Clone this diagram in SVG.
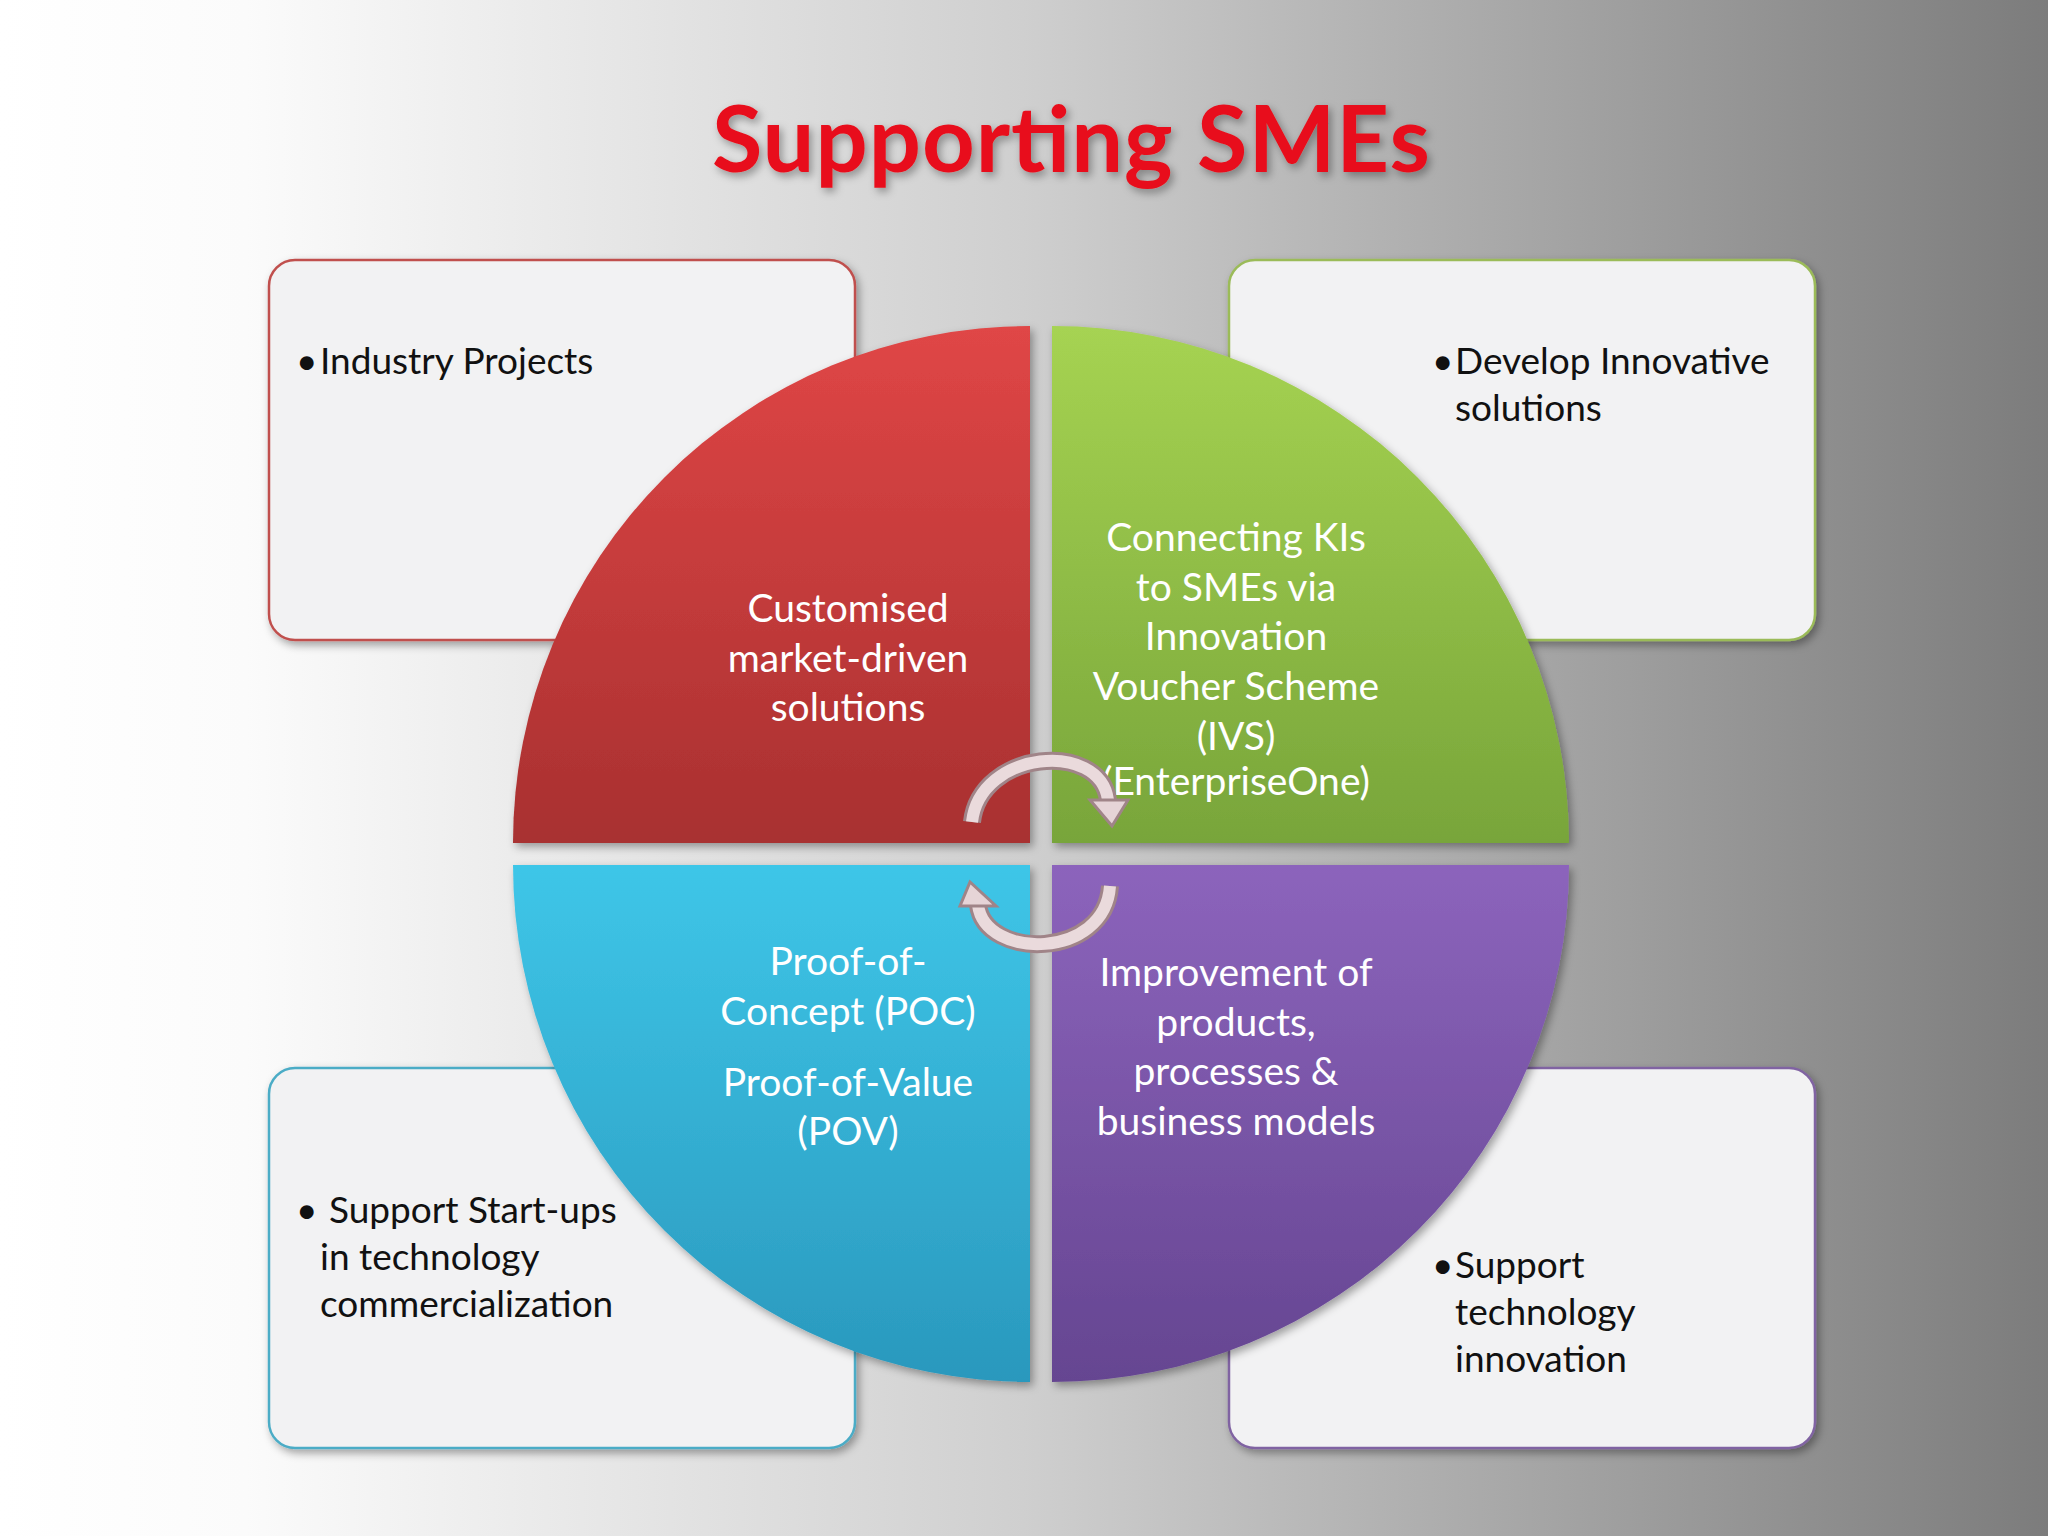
<svg xmlns="http://www.w3.org/2000/svg" width="2048" height="1536" viewBox="0 0 2048 1536">
<defs>
<linearGradient id="bg" x1="0" y1="0" x2="1" y2="0">
<stop offset="0" stop-color="#ffffff"/><stop offset="0.12" stop-color="#fbfbfb"/><stop offset="0.5" stop-color="#cfcfcf"/><stop offset="1" stop-color="#7c7c7c"/>
</linearGradient>
<linearGradient id="gr" x1="0" y1="0" x2="0" y2="1"><stop offset="0" stop-color="#e04646"/><stop offset="1" stop-color="#a83030"/></linearGradient>
<linearGradient id="gg" x1="0" y1="0" x2="0" y2="1"><stop offset="0" stop-color="#a6d352"/><stop offset="1" stop-color="#78a53a"/></linearGradient>
<linearGradient id="gb" x1="0" y1="0" x2="0" y2="1"><stop offset="0" stop-color="#3ec6e8"/><stop offset="1" stop-color="#2a98bd"/></linearGradient>
<linearGradient id="gp" x1="0" y1="0" x2="0" y2="1"><stop offset="0" stop-color="#8c64bc"/><stop offset="1" stop-color="#654591"/></linearGradient>
<filter id="sh" x="-10%" y="-10%" width="130%" height="130%"><feDropShadow dx="3" dy="4" stdDeviation="4" flood-color="#000" flood-opacity="0.35"/></filter>
</defs>
<style>
.box{fill:#f2f2f3;stroke-width:2.5}
.bt{font-family:Lato,"Open Sans",sans-serif;font-size:37px;fill:#111}
.qt{font-family:Lato,"Open Sans",sans-serif;font-size:39px;fill:#fff;text-anchor:middle}
.arr{fill:none;stroke:#a08488;stroke-width:18;stroke-linecap:butt}
.arri{fill:none;stroke:#eadadc;stroke-width:12}
</style>
<rect width="2048" height="1536" fill="url(#bg)"/>
<text x="1071" y="172" text-anchor="middle" font-family="Lato,'Open Sans',sans-serif" font-weight="bold" font-size="92" textLength="718" fill="#e8101a" filter="url(#sh)">Supporting SMEs</text>

<g id="box-tl"><rect class="box" x="269" y="260" width="586" height="380" rx="26" stroke="#c0504d" filter="url(#sh)"/>
<text class="bt" x="296" y="374">•</text><text class="bt" x="320" y="374">Industry Projects</text></g>
<g id="box-tr"><rect class="box" x="1229" y="260" width="586" height="380" rx="26" stroke="#9bbb59" filter="url(#sh)"/>
<text class="bt" x="1432" y="374">•</text><text class="bt" x="1455" y="374">Develop Innovative</text><text class="bt" x="1455" y="421">solutions</text></g>
<g id="box-bl"><rect class="box" x="269" y="1068" width="586" height="380" rx="26" stroke="#4bacc6" filter="url(#sh)"/>
<text class="bt" x="296" y="1223">•</text><text class="bt" x="329" y="1223">Support Start-ups</text><text class="bt" x="320" y="1270">in technology</text><text class="bt" x="320" y="1317">commercialization</text></g>
<g id="box-br"><rect class="box" x="1229" y="1068" width="586" height="380" rx="26" stroke="#8064a2" filter="url(#sh)"/>
<text class="bt" x="1432" y="1278">•</text><text class="bt" x="1455" y="1278">Support</text><text class="bt" x="1455" y="1325">technology</text><text class="bt" x="1455" y="1372">innovation</text></g>

<g id="q-red"><path d="M1030,843 L513,843 A517,517 0 0 1 1030,326 Z" fill="url(#gr)" filter="url(#sh)"/>
<text class="qt" x="848" y="622">Customised</text><text class="qt" x="848" y="672">market-driven</text><text class="qt" x="848" y="721">solutions</text></g>
<g id="q-green"><path d="M1052,843 L1052,326 A517,517 0 0 1 1569,843 Z" fill="url(#gg)" filter="url(#sh)"/>
<text class="qt" x="1236" y="551">Connecting KIs</text><text class="qt" x="1236" y="601">to SMEs via</text><text class="qt" x="1236" y="650">Innovation</text><text class="qt" x="1236" y="700">Voucher Scheme</text><text class="qt" x="1236" y="750">(IVS)</text><text class="qt" x="1236" y="795" font-size="34">(EnterpriseOne)</text></g>
<g id="q-blue"><path d="M1030,865 L1030,1382 A517,517 0 0 1 513,865 Z" fill="url(#gb)" filter="url(#sh)"/>
<text class="qt" x="848" y="975">Proof-of-</text><text class="qt" x="848" y="1025">Concept (POC)</text><text class="qt" x="848" y="1096">Proof-of-Value</text><text class="qt" x="848" y="1145">(POV)</text></g>
<g id="q-purple"><path d="M1052,865 L1569,865 A517,517 0 0 1 1052,1382 Z" fill="url(#gp)" filter="url(#sh)"/>
<text class="qt" x="1236" y="986">Improvement of</text><text class="qt" x="1236" y="1036">products,</text><text class="qt" x="1236" y="1085">processes &amp;</text><text class="qt" x="1236" y="1135">business models</text></g>

<g id="connectors">
<path class="arr" d="M972,822 C980,750 1100,740 1108,800"/>
<path class="arri" d="M972,822 C980,750 1100,740 1108,800"/>
<polygon points="1090,800 1128,800 1112,826" fill="#e6d4d7" stroke="#a08488" stroke-width="3"/>
<path class="arr" d="M1110,886 C1105,960 985,960 978,905"/>
<path class="arri" d="M1110,886 C1105,960 985,960 978,905"/>
<polygon points="960,906 996,906 970,882" fill="#e6d4d7" stroke="#a08488" stroke-width="3"/>
</g>
</svg>
